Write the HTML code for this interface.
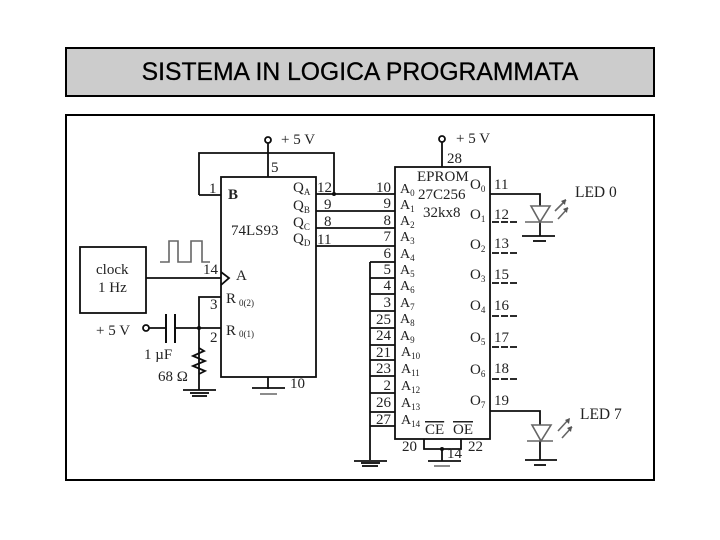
<!DOCTYPE html>
<html><head><meta charset="utf-8"><style>
html,body{margin:0;padding:0;background:#fff;width:720px;height:540px;overflow:hidden}
svg{display:block}
text{font-family:"Liberation Serif",serif;fill:#222}
.t{font-size:15px}.s{font-size:9px}
</style></head><body>
<svg width="720" height="540" viewBox="0 0 720 540" xmlns="http://www.w3.org/2000/svg">
<defs><filter id="bl" filterUnits="userSpaceOnUse" x="68" y="117" width="584" height="361"><feGaussianBlur stdDeviation="0.35"/></filter></defs>
<rect x="66" y="48" width="588" height="48" fill="#cccccc" stroke="#000" stroke-width="2"/>
<rect x="66" y="115" width="588" height="365" fill="#fff" stroke="#000" stroke-width="2"/>
<text x="360" y="80" text-anchor="middle" style="font-family:'Liberation Sans',sans-serif;font-size:24.7px;fill:#000" stroke="#000" stroke-width="0.3">SISTEMA IN LOGICA PROGRAMMATA</text>

<g filter="url(#bl)">
<g fill="none" stroke="#111" stroke-width="1.8">
<rect x="221" y="177" width="95" height="200"/>
<rect x="395" y="167" width="95" height="272"/>
<rect x="80" y="247" width="66" height="66"/>
<circle cx="268" cy="140" r="3"/>
<circle cx="442" cy="139" r="3"/>
<circle cx="146" cy="328" r="3"/>
<path d="M268 143V177M199 195V153H334V194M199 195H221M316 194H395M316 211H395M316 228H395M316 246H395"/>
<path d="M146 278H221M221 272L229 278L221 285"/>
<path d="M221 297H199V390M149 328H166M175 328H221"/>
<path d="M166 314V343M175 314V343" stroke-width="2"/>
<path d="M199 348L204 351L193 356L205 361L193 366L205 371L199 374"/>
<path d="M183 390H216M268 377V389M252 388H285"/>
<path d="M442 142V167"/>
<path d="M370 262V460M354 461H387"/>
<path d="M370 262H395M370 278H395M370 294H395M370 311H395M370 328H395M370 345H395M370 360H395M370 376H395M370 393H395M370 412H395M370 426H395"/>
<path d="M490 194H540V206M540 222V236M522 236H555"/>
<path d="M490 411H540V425M540 441V460M525 460H557"/>
<path d="M424 439V449H461V439M442 449V461M428 461H461"/>
<path d="M492 222H518M492 253H518M492 283H518M492 316H518M492 347H518M492 379H518" stroke-dasharray="7 2"/>
</g>
<g fill="none" stroke="#666" stroke-width="1.6">
<path d="M160 262H169V241H178V262H191V241H202V262H210"/>
<path d="M531 206H550L540 222ZM525 222H553"/>
<path d="M532 425H551L541 441ZM527 441H553"/>
<path d="M260 394H277M434 466H450"/>
<path d="M555 211L566 200M558 219L568 208M558 431L569 419M562 438L572 427"/>
</g>
<g fill="none" stroke="#222" stroke-width="2">
<path d="M190 393H209M192 396H207M361 463H380M362 466H378M533 241H546M534 465H546"/>
</g>
<g fill="#111">
<circle cx="334" cy="194" r="2"/><circle cx="199" cy="328" r="2"/><circle cx="442" cy="449" r="2"/>
<path d="M566 199L561 201L565 205ZM568 207L563 209L567 213ZM570 418L565 420L569 424ZM572 426L567 428L571 432Z" fill="#555"/>
</g>

<text class="t" x="281" y="144">+ 5 V</text>
<text class="t" x="271" y="172">5</text>
<text class="t" x="209" y="193">1</text>
<text x="228" y="199" font-size="15" font-weight="bold">B</text>
<text class="t" x="231" y="235">74LS93</text>
<text class="t" x="293" y="192">Q<tspan class="s" dy="3">A</tspan></text>
<text class="t" x="293" y="210">Q<tspan class="s" dy="3">B</tspan></text>
<text class="t" x="293" y="227">Q<tspan class="s" dy="3">C</tspan></text>
<text class="t" x="293" y="243">Q<tspan class="s" dy="3">D</tspan></text>
<text class="t" x="317" y="192">12</text>
<text class="t" x="324" y="209">9</text>
<text class="t" x="324" y="226">8</text>
<text class="t" x="317" y="244">11</text>
<text class="t" x="96" y="274">clock</text>
<text class="t" x="98" y="292">1 Hz</text>
<text class="t" x="203" y="274">14</text>
<text x="236" y="280" font-size="15">A</text>
<text class="t" x="226" y="303">R<tspan class="s" dx="3" dy="3">0(2)</tspan></text>
<text class="t" x="226" y="335">R<tspan class="s" dx="3" dy="2">0(1)</tspan></text>
<text class="t" x="210" y="309">3</text>
<text class="t" x="210" y="342">2</text>
<text class="t" x="96" y="335">+ 5 V</text>
<text class="t" x="144" y="359">1 µF</text>
<text class="t" x="158" y="381">68 Ω</text>
<text class="t" x="290" y="388">10</text>

<text class="t" x="456" y="143">+ 5 V</text>
<text class="t" x="447" y="163">28</text>
<text class="t" x="417" y="181">EPROM</text>
<text class="t" x="418" y="199">27C256</text>
<text class="t" x="423" y="217">32kx8</text>
<g font-size="15" text-anchor="end">
<text x="391" y="192">10</text><text x="391" y="208">9</text><text x="391" y="225">8</text><text x="391" y="241">7</text>
<text x="391" y="258">6</text><text x="391" y="274">5</text><text x="391" y="290">4</text><text x="391" y="307">3</text>
<text x="391" y="324">25</text><text x="391" y="340">24</text><text x="391" y="357">21</text><text x="391" y="373">23</text>
<text x="391" y="390">2</text><text x="391" y="407">26</text><text x="391" y="424">27</text>
</g>
<g font-size="14">
<text x="400" y="193">A<tspan class="s" dy="3">0</tspan></text>
<text x="400" y="209">A<tspan class="s" dy="3">1</tspan></text>
<text x="400" y="225">A<tspan class="s" dy="3">2</tspan></text>
<text x="400" y="241">A<tspan class="s" dy="3">3</tspan></text>
<text x="400" y="258">A<tspan class="s" dy="3">4</tspan></text>
<text x="400" y="274">A<tspan class="s" dy="3">5</tspan></text>
<text x="400" y="290">A<tspan class="s" dy="3">6</tspan></text>
<text x="400" y="307">A<tspan class="s" dy="3">7</tspan></text>
<text x="400" y="323">A<tspan class="s" dy="3">8</tspan></text>
<text x="400" y="340">A<tspan class="s" dy="3">9</tspan></text>
<text x="401" y="356">A<tspan class="s" dy="3">10</tspan></text>
<text x="401" y="373">A<tspan class="s" dy="3">11</tspan></text>
<text x="401" y="390">A<tspan class="s" dy="3">12</tspan></text>
<text x="401" y="407">A<tspan class="s" dy="3">13</tspan></text>
<text x="401" y="424">A<tspan class="s" dy="3">14</tspan></text>
</g>
<g font-size="15">
<text x="470" y="189">O<tspan class="s" dy="3">0</tspan></text>
<text x="470" y="219">O<tspan class="s" dy="3">1</tspan></text>
<text x="470" y="249">O<tspan class="s" dy="3">2</tspan></text>
<text x="470" y="279">O<tspan class="s" dy="3">3</tspan></text>
<text x="470" y="310">O<tspan class="s" dy="3">4</tspan></text>
<text x="470" y="342">O<tspan class="s" dy="3">5</tspan></text>
<text x="470" y="374">O<tspan class="s" dy="3">6</tspan></text>
<text x="470" y="405">O<tspan class="s" dy="3">7</tspan></text>
</g>
<g font-size="15">
<text x="494" y="189">11</text><text x="494" y="219">12</text><text x="494" y="248">13</text><text x="494" y="279">15</text>
<text x="494" y="310">16</text><text x="494" y="342">17</text><text x="494" y="373">18</text><text x="494" y="405">19</text>
</g>
<text x="575" y="197" font-size="15.5">LED 0</text>
<text x="580" y="419" font-size="15.5">LED 7</text>
<text class="t" x="425" y="434" text-decoration="overline">CE</text>
<text class="t" x="453" y="434" text-decoration="overline">OE</text>
<text class="t" x="402" y="451">20</text>
<text class="t" x="468" y="451">22</text>
<text class="t" x="447" y="458">14</text>
</g>
</svg>
</body></html>
